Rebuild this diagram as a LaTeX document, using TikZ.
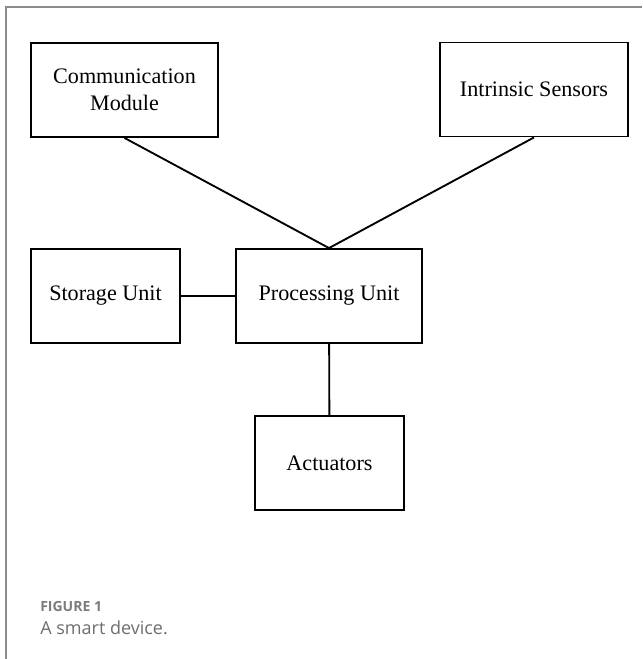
\documentclass[tikz,border=0pt]{standalone}
\usepackage{fontspec}
\setmainfont{Liberation Serif}
\newfontfamily\captionfont{Open Sans}
\usepackage{xcolor}
\usetikzlibrary{positioning}

\definecolor{framegray}{HTML}{8C8C8C}
\definecolor{capgray}{HTML}{6E6E6E}

\begin{document}
\begin{tikzpicture}[
        x=0.75pt, y=-0.75pt,
        unit/.style={rectangle, draw, line width=1.4pt, inner sep=0pt, minimum width=#1, minimum height=70.5pt, align=center, font=\fontsize{16.6}{20.5}\selectfont},
        link/.style={line width=1.4pt},
        caption/.style={anchor=base west, inner sep=0pt, text=capgray}
    ]
        \useasboundingbox (0,0) rectangle (642,659);

        % Page frame
        \draw[framegray, line width=1.1pt] (6,659) -- (6,7) -- (642,7);

        % Blocks
        \node[unit=140pt] (comm) at (124.5, 90) {Communication\\Module};
        \node[unit=141pt] (sensors) at (534, 89.5) {Intrinsic Sensors};
        \node[unit=112pt] (storage) at (105.5, 296) {Storage Unit};
        \node[unit=139.5pt] (proc) at (329, 296) {Processing Unit};
        \node[unit=112pt] (act) at (329.5, 463) {Actuators};

        % Connections
        \draw[link] (comm.south) -- (proc.north);
        \draw[link] (sensors.south) -- (proc.north);
        \draw[link] (storage) -- (proc);
        \draw[link] (proc) -- (act);

        % Caption
        \node[caption, font=\captionfont\fontsize{10.5}{12}\selectfont\bfseries, text=capgray!90] (fignum) at (40, 611) {FIGURE 1};
        \node[caption, font=\captionfont\fontsize{13.5}{16}\selectfont] (figtext) at (40, 634) {A smart device.};
\end{tikzpicture}
\end{document}
